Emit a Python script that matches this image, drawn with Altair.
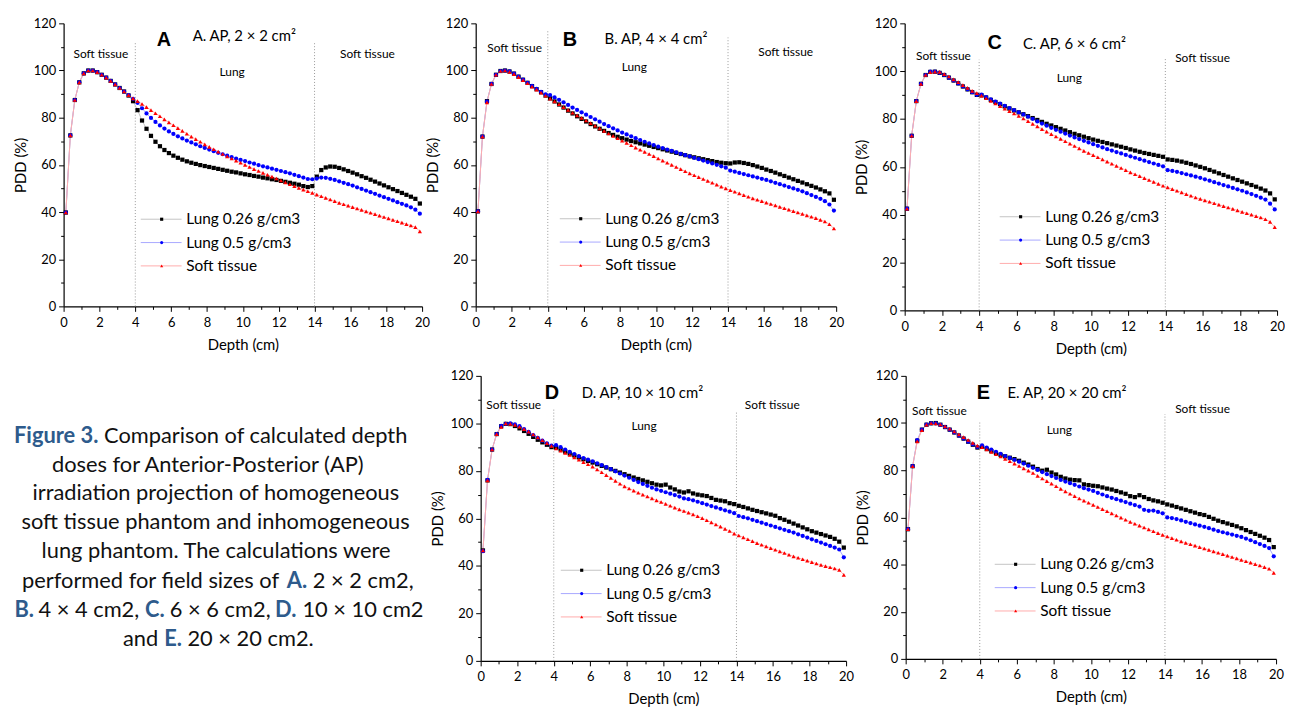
import altair as alt
import pandas as pd

SERIES = ["Lung 0.26 g/cm3", "Lung 0.5 g/cm3", "Soft tissue"]
POINT_COLORS = ["#000000", "#0000ff", "#ff0000"]
LINE_COLORS = ["#c4c4c4", "#a8a8ff", "#ffacac"]
SHAPES = ["square", "circle", "triangle-up"]

DEPTH = [0.125, 0.375, 0.625, 0.875, 1.125, 1.375, 1.625, 1.875, 2.125, 2.375,
         2.625, 2.875, 3.125, 3.375, 3.625, 3.875, 4.125, 4.375, 4.625, 4.875,
         5.125, 5.375, 5.625, 5.875, 6.125, 6.375, 6.625, 6.875, 7.125, 7.375,
         7.625, 7.875, 8.125, 8.375, 8.625, 8.875, 9.125, 9.375, 9.625, 9.875,
         10.125, 10.375, 10.625, 10.875, 11.125, 11.375, 11.625, 11.875, 12.125, 12.375,
         12.625, 12.875, 13.125, 13.375, 13.625, 13.875, 14.125, 14.375, 14.625, 14.875,
         15.125, 15.375, 15.625, 15.875, 16.125, 16.375, 16.625, 16.875, 17.125, 17.375,
         17.625, 17.875, 18.125, 18.375, 18.625, 18.875, 19.125, 19.375, 19.625, 19.875]

# ---------------- Panel A: 2 x 2 cm2 ----------------
A_LUNG026 = [39.8, 72.5, 87.5, 95.0, 98.8, 100.0, 100.0, 99.3, 98.2, 97.0, 95.6, 94.1, 92.6, 91.1, 89.4, 87.0,
             83.2, 78.8, 75.3, 72.3, 69.8, 67.9, 66.3, 65.0,
             63.9, 63.0, 62.2, 61.5, 60.9, 60.4, 59.9, 59.5,
             59.1, 58.7, 58.3, 57.9, 57.5, 57.1, 56.8, 56.4,
             56.0, 55.7, 55.3, 55.0, 54.6, 54.3, 53.9, 53.6,
             53.2, 52.8, 52.4, 52.0, 51.6, 51.0, 50.6, 51.0,
             55.0, 57.8, 58.9, 59.3, 59.2, 58.7, 58.1, 57.4,
             56.7, 56.0, 55.2, 54.5, 53.7, 52.9, 52.1, 51.3,
             50.5, 49.7, 48.9, 48.1, 47.3, 46.5, 45.6, 43.6]
A_LUNG05 = [39.8, 72.5, 87.5, 95.0, 98.8, 100.0, 100.0, 99.3, 98.2, 97.0, 95.6, 94.1, 92.6, 91.1, 89.6, 88.0,
            86.3, 84.0, 81.8, 79.9, 78.2, 76.7, 75.4, 74.2,
            73.1, 72.1, 71.2, 70.3, 69.5, 68.7, 67.9, 67.2,
            66.5, 65.8, 65.1, 64.5, 63.9, 63.3, 62.7, 62.1,
            61.6, 61.0, 60.5, 59.9, 59.4, 58.9, 58.4, 57.9,
            57.4, 56.9, 56.4, 55.8, 55.2, 54.6, 54.0, 53.9,
            54.2, 54.6, 54.5, 54.1, 53.6, 53.0, 52.4, 51.8,
            51.2, 50.5, 49.8, 49.1, 48.4, 47.7, 47.0, 46.3,
            45.6, 44.9, 44.2, 43.5, 42.8, 42.0, 41.0, 39.3]
A_SOFT = [39.8, 72.5, 87.5, 95.0, 98.8, 100.0, 100.0, 99.3, 98.2, 97.0, 95.6, 94.1, 92.6, 91.1, 89.6, 88.2,
          87.0, 85.8, 84.5, 83.2, 81.9, 80.6, 79.3, 78.0,
          76.8, 75.6, 74.4, 73.2, 72.0, 70.9, 69.8, 68.7,
          67.6, 66.6, 65.6, 64.6, 63.6, 62.7, 61.8, 60.9,
          60.0, 59.1, 58.2, 57.4, 56.6, 55.8, 55.0, 54.2,
          53.4, 52.6, 51.8, 51.0, 50.2, 49.5, 48.8, 48.1,
          47.4, 46.7, 46.0, 45.3, 44.6, 43.9, 43.3, 42.7,
          42.1, 41.5, 40.9, 40.3, 39.7, 39.1, 38.5, 37.9,
          37.3, 36.7, 36.1, 35.5, 34.9, 34.3, 33.6, 31.8]

# ---------------- Panel B: 4 x 4 cm2 ----------------
B_LUNG026 = [40.3, 72.0, 87.0, 94.3, 98.2, 99.8, 100.0, 99.6, 98.7, 97.4, 96.1, 94.8, 93.4, 92.1, 90.8, 89.4,
             88.2, 86.9, 85.6, 84.3, 83.0, 81.8, 80.6, 79.5,
             78.4, 77.3, 76.3, 75.3, 74.4, 73.5, 72.7, 71.9,
             71.3, 70.7, 70.1, 69.6, 69.1, 68.6, 68.1, 67.6,
             67.1, 66.6, 66.1, 65.6, 65.1, 64.6, 64.1, 63.6,
             63.2, 62.8, 62.4, 62.0, 61.6, 61.2, 60.9, 60.7,
             60.6, 61.0, 61.1, 60.8, 60.4, 59.9, 59.3, 58.7,
             58.0, 57.4, 56.7, 56.0, 55.3, 54.6, 53.9, 53.2,
             52.5, 51.8, 51.1, 50.4, 49.6, 48.8, 47.9, 45.2]
B_LUNG05 = [40.3, 72.0, 86.8, 94.3, 98.2, 99.8, 100.0, 99.6, 98.7, 97.4, 96.1, 94.8, 93.5, 92.2, 91.0, 89.9,
            89.6, 88.6, 87.6, 86.5, 85.4, 84.3, 83.3, 82.3,
            81.3, 80.3, 79.3, 78.3, 77.3, 76.4, 75.5, 74.6,
            73.7, 72.9, 72.1, 71.3, 70.5, 69.8, 69.1, 68.4,
            67.7, 67.1, 66.5, 65.9, 65.3, 64.7, 64.1, 63.6,
            63.0, 62.4, 61.8, 61.2, 60.6, 60.0, 59.4, 58.8,
            57.6, 57.1, 56.6, 56.1, 55.6, 55.1, 54.6, 54.1,
            53.6, 53.0, 52.4, 51.8, 51.2, 50.6, 50.0, 49.4,
            48.8, 48.0, 47.2, 46.4, 45.6, 44.6, 43.2, 40.6]
B_SOFT = [40.3, 72.0, 86.5, 94.3, 98.2, 99.8, 100.0, 99.4, 98.5, 97.2, 95.9, 94.6, 93.2, 91.9, 90.6, 89.3,
          88.1, 86.9, 85.7, 84.5, 83.3, 82.1, 81.0, 79.9,
          78.8, 77.7, 76.6, 75.5, 74.4, 73.3, 72.3, 71.3,
          70.3, 69.3, 68.3, 67.3, 66.4, 65.5, 64.6, 63.7,
          62.7, 61.8, 60.9, 60.0, 59.1, 58.2, 57.3, 56.4,
          55.6, 54.8, 54.0, 53.2, 52.4, 51.6, 50.8, 50.0,
          49.3, 48.6, 47.9, 47.2, 46.5, 45.8, 45.2, 44.6,
          44.0, 43.4, 42.8, 42.2, 41.6, 41.0, 40.4, 39.8,
          39.2, 38.6, 38.0, 37.4, 36.7, 36.0, 34.8, 33.0]

# ---------------- Panel C: 6 x 6 cm2 ----------------
C_LUNG026 = [42.5, 73.0, 87.5, 94.7, 98.4, 99.7, 99.8, 99.3, 98.4, 97.3, 96.1, 94.9, 93.6, 92.4, 91.2, 90.1,
             89.9, 89.0, 88.0, 87.1, 86.2, 85.3, 84.4, 83.6,
             82.8, 82.0, 81.2, 80.4, 79.6, 78.8, 78.0, 77.3,
             76.6, 75.9, 75.2, 74.5, 73.8, 73.2, 72.6, 72.0,
             71.4, 70.9, 70.4, 69.9, 69.4, 68.9, 68.4, 67.9,
             67.3, 66.8, 66.3, 65.8, 65.4, 65.0, 64.6, 64.2,
             63.1, 62.9, 62.6, 62.2, 61.7, 61.2, 60.6, 60.0,
             59.4, 58.7, 58.0, 57.3, 56.6, 55.9, 55.2, 54.5,
             53.8, 53.1, 52.4, 51.7, 50.9, 50.1, 48.9, 46.4]
C_LUNG05 = [42.5, 73.0, 87.5, 94.7, 98.4, 99.8, 99.8, 99.3, 98.4, 97.3, 96.1, 94.9, 93.6, 92.4, 91.2, 90.1,
            90.2, 89.2, 88.2, 87.3, 86.4, 85.5, 84.6, 83.7,
            82.8, 81.9, 81.0, 80.1, 79.0, 78.1, 77.2, 76.3,
            75.5, 74.7, 73.9, 73.1, 72.3, 71.6, 70.9, 70.2,
            69.5, 68.8, 68.1, 67.4, 66.8, 66.2, 65.6, 65.0,
            64.4, 63.8, 63.2, 62.6, 62.0, 61.4, 60.8, 60.2,
            58.6, 58.3, 57.9, 57.4, 56.9, 56.4, 55.9, 55.4,
            54.8, 54.2, 53.6, 53.0, 52.4, 51.8, 51.2, 50.6,
            50.0, 49.3, 48.6, 47.9, 47.1, 46.3, 44.6, 42.2]
C_SOFT = [42.5, 73.0, 87.5, 94.7, 98.4, 99.6, 99.8, 99.7, 98.8, 97.8, 96.6, 95.4, 94.2, 93.0, 91.8, 90.8,
          89.8, 88.7, 87.6, 86.5, 85.4, 84.3, 83.3, 82.3,
          81.3, 80.2, 79.1, 78.0, 76.9, 75.8, 74.7, 73.7,
          72.7, 71.7, 70.7, 69.7, 68.7, 67.7, 66.7, 65.8,
          64.9, 64.0, 63.1, 62.2, 61.3, 60.4, 59.5, 58.6,
          57.7, 56.9, 56.1, 55.3, 54.5, 53.7, 52.9, 52.1,
          51.4, 50.7, 50.0, 49.3, 48.6, 47.9, 47.2, 46.6,
          46.0, 45.4, 44.8, 44.2, 43.6, 43.0, 42.4, 41.8,
          41.2, 40.6, 40.0, 39.4, 38.8, 38.1, 37.0, 34.8]

# ---------------- Panel D: 10 x 10 cm2 ----------------
D_LUNG026 = [46.5, 76.0, 89.0, 95.5, 98.8, 99.8, 99.7, 98.9, 97.9, 96.8, 95.6, 94.3, 93.1, 92.0, 91.0, 90.0,
             89.8, 89.0, 88.1, 87.3, 86.5, 85.7, 84.9, 84.2,
             83.5, 82.8, 82.1, 81.4, 80.7, 80.0, 79.3, 78.6,
             77.9, 77.2, 76.6, 76.0, 75.4, 74.8, 74.2, 73.9,
             74.2, 73.0, 72.2, 71.3, 70.9, 71.4, 70.5, 70.0,
             69.7, 69.4, 68.6, 67.8, 67.5, 67.2, 66.4, 66.0,
             65.3, 64.8, 64.2, 63.6, 63.1, 62.6, 62.1, 61.6,
             61.1, 60.1, 59.4, 58.6, 57.8, 57.0, 56.2, 55.4,
             54.6, 54.0, 53.4, 52.8, 52.2, 51.4, 50.2, 47.7]
D_LUNG05 = [46.2, 76.2, 89.0, 95.5, 99.0, 99.8, 100.0, 99.6, 98.8, 97.6, 96.4, 95.1, 93.9, 92.7, 91.6, 90.6,
            90.8, 90.0, 89.0, 88.0, 87.1, 86.2, 85.4, 84.7,
            84.0, 83.2, 82.4, 81.6, 80.7, 79.8, 78.9, 78.0,
            77.1, 76.2, 75.3, 74.5, 73.7, 72.9, 72.2, 71.6,
            71.0, 70.4, 69.8, 69.2, 68.4, 68.1, 67.6, 67.0,
            66.4, 65.8, 65.2, 64.6, 64.0, 63.4, 62.8, 62.2,
            61.0, 60.5, 60.0, 59.4, 58.8, 58.2, 57.6, 57.0,
            56.4, 55.8, 55.2, 54.6, 54.0, 53.3, 52.6, 51.9,
            51.2, 50.5, 49.8, 49.1, 48.4, 47.7, 46.9, 43.6]
D_SOFT = [46.5, 76.0, 89.0, 95.5, 98.5, 100.0, 99.8, 99.4, 98.6, 97.6, 96.5, 95.3, 94.1, 92.9, 91.7, 90.5,
          89.4, 88.5, 87.6, 86.7, 85.7, 84.7, 83.7, 82.8,
          81.8, 80.6, 79.4, 78.2, 77.0, 75.8, 74.6, 73.5,
          72.6, 71.7, 70.8, 70.0, 69.2, 68.4, 67.6, 66.9,
          66.1, 65.3, 64.5, 63.8, 63.1, 62.4, 61.7, 60.9,
          60.1, 59.2, 58.3, 57.4, 56.5, 55.6, 54.7, 53.6,
          52.8, 52.0, 51.2, 50.4, 49.6, 48.9, 48.2, 47.5,
          46.8, 46.1, 45.4, 44.7, 44.0, 43.4, 42.8, 42.2,
          41.6, 41.0, 40.4, 39.9, 39.4, 38.9, 38.3, 36.2]

# ---------------- Panel E: 20 x 20 cm2 ----------------
E_LUNG026 = [55.0, 81.7, 92.5, 97.2, 99.3, 99.9, 100.0, 99.3, 98.3, 97.2, 96.0, 94.7, 93.4, 92.1, 90.8, 89.6,
             89.9, 89.0, 88.1, 87.3, 86.5, 85.9, 85.3, 84.7,
             84.0, 83.2, 82.4, 81.5, 80.5, 79.8, 80.2, 79.0,
             78.2, 77.2, 76.5, 76.0, 75.8, 75.7, 74.0, 73.7,
             73.4, 73.2, 72.7, 72.2, 71.8, 71.2, 70.6, 70.0,
             69.0, 68.6, 69.4, 68.6, 67.8, 67.2, 66.8, 66.2,
             65.5, 65.0, 64.4, 63.8, 63.2, 62.6, 62.0, 61.4,
             61.0, 60.2, 59.4, 58.6, 58.0, 57.4, 56.8, 56.2,
             55.4, 54.6, 53.8, 53.0, 52.2, 51.4, 50.4, 47.4]
E_LUNG05 = [55.0, 81.7, 92.8, 97.2, 99.3, 99.9, 99.9, 99.2, 98.3, 97.2, 96.0, 94.7, 93.4, 92.1, 90.9, 89.8,
            90.5, 89.6, 88.7, 87.8, 86.9, 86.0, 85.2, 84.4,
            83.6, 82.8, 81.9, 81.0, 80.1, 79.2, 78.3, 77.5,
            76.7, 75.9, 75.2, 74.5, 73.8, 73.1, 72.4, 71.8,
            71.2, 70.4, 69.7, 69.0, 68.3, 67.7, 67.1, 66.5,
            65.8, 65.2, 64.6, 63.2, 62.8, 62.9, 62.3, 61.7,
            60.0, 59.7, 59.3, 58.7, 58.1, 57.6, 57.0, 56.5,
            56.0, 55.4, 54.8, 54.2, 53.7, 53.2, 52.7, 52.2,
            51.7, 51.0, 50.3, 49.5, 48.7, 47.9, 47.0, 43.5]
E_SOFT = [55.0, 81.7, 92.2, 97.0, 99.3, 99.9, 99.8, 99.4, 98.6, 97.6, 96.4, 95.2, 94.0, 92.8, 91.6, 90.4,
          89.8, 88.8, 87.8, 86.8, 85.8, 84.8, 83.8, 82.8,
          81.8, 80.8, 79.8, 78.8, 77.6, 76.5, 75.4, 74.3,
          73.2, 72.1, 71.0, 70.0, 69.0, 68.0, 67.1, 66.2,
          65.3, 64.4, 63.5, 62.6, 61.7, 60.8, 59.9, 59.0,
          58.1, 57.3, 56.5, 55.7, 54.9, 54.1, 53.3, 52.6,
          51.9, 51.2, 50.5, 49.8, 49.2, 48.6, 48.0, 47.4,
          46.8, 46.2, 45.6, 45.0, 44.4, 43.8, 43.2, 42.6,
          42.0, 41.4, 40.8, 40.2, 39.6, 38.9, 38.2, 36.5]

REGION_BOUNDS = [4, 14]
X_MAJOR = [0, 2, 4, 6, 8, 10, 12, 14, 16, 18, 20]
X_MINOR = [1, 3, 5, 7, 9, 11, 13, 15, 17, 19]
Y_MAJOR = [0, 20, 40, 60, 80, 100, 120]
Y_MINOR = [10, 30, 50, 70, 90, 110]

PANEL_TITLES = {"A": "A. AP, 2 × 2 cm²", "B": "B. AP, 4 × 4 cm²", "C": "C. AP, 6 × 6 cm²",
                "D": "D. AP, 10 × 10 cm²", "E": "E. AP, 20 × 20 cm²"}
PANEL_DATA = {"A": (A_LUNG026, A_LUNG05, A_SOFT), "B": (B_LUNG026, B_LUNG05, B_SOFT),
              "C": (C_LUNG026, C_LUNG05, C_SOFT), "D": (D_LUNG026, D_LUNG05, D_SOFT),
              "E": (E_LUNG026, E_LUNG05, E_SOFT)}

# layout of each panel (plot size, annotation anchors in data units, legend offsets in px)
LAYOUT = {
    "A": dict(w=361, h=285, rule_top=[111.7, 112.4], letter=(5.6, 113), title=(7.2, 114.5),
              annot=[(2.08, 107), (9.4, 99.5), (16.95, 107)], leg_mark=93, leg_row=195),
    "B": dict(w=363, h=285, rule_top=[116.8, 114.0], letter=(5.23, 113), title=(7.15, 113.5),
              annot=[(2.16, 109.7), (8.8, 101.3), (17.2, 108)], leg_mark=100, leg_row=194.5),
    "C": dict(w=375, h=289, rule_top=[104.8, 105.5], letter=(4.84, 111.7), title=(6.35, 111.3),
              annot=[(2.08, 106.2), (8.84, 97.3), (16.0, 105.5)], leg_mark=111, leg_row=192.5),
    "D": dict(w=368, h=287, rule_top=[106.0, 105.0], letter=(3.9, 112.8), title=(5.53, 112.8),
              annot=[(1.81, 107.6), (8.94, 98.8), (15.96, 107.6)], leg_mark=96, leg_row=193.5),
    "E": dict(w=373, h=285, rule_top=[100.9, 103.8], letter=(4.2, 112.6), title=(5.5, 112.6),
              annot=[(1.82, 105), (8.3, 97), (16.03, 106)], leg_mark=105, leg_row=187.5),
}
ANNOT_TEXT = ["Soft tissue", "Lung", "Soft tissue"]

FONT = "Lato"
XS = alt.Scale(domain=[0, 20], nice=False, zero=False)
YS = alt.Scale(domain=[0, 120], nice=False, zero=False)
SYM_SIZE = 10
LINE_SYMBOL = "M-13,0H13"


def panel(key):
    lay = LAYOUT[key]
    rows = []
    for name, vals in zip(SERIES, PANEL_DATA[key]):
        for d, v in zip(DEPTH, vals):
            rows.append({"depth": d, "pdd": v, "series": name})
    df = pd.DataFrame(rows)

    x_main = alt.X("depth:Q", scale=XS, axis=alt.Axis(
        values=X_MAJOR, orient="bottom", title="Depth (cm)", grid=False, tickSize=5,
        labelFontSize=13, titleFontSize=15, titleFontWeight="normal", labelPadding=5,
        titlePadding=8, labelFlush=False))
    y_main = alt.Y("pdd:Q", scale=YS, axis=alt.Axis(
        values=Y_MAJOR, orient="left", title="PDD (%)", grid=False, tickSize=5,
        labelFontSize=13, titleFontSize=15, titleFontWeight="normal", labelPadding=3,
        titlePadding=5, labelFlush=False))

    row_pad = 6.5
    leg_y = lay["leg_row"] - 5.5
    leg_x = lay["leg_mark"] - 2
    line_leg = alt.Legend(orient="none", legendX=leg_x - 0.5, legendY=leg_y, title=None,
                          symbolType=LINE_SYMBOL, symbolSize=SYM_SIZE, symbolStrokeWidth=1,
                          labelFontSize=15.5, labelOpacity=0, rowPadding=row_pad, padding=0,
                          zindex=0)
    pt_leg = alt.Legend(orient="none", legendX=leg_x, legendY=leg_y, title=None,
                        symbolSize=SYM_SIZE, labelFontSize=15.5, labelColor="black", labelOffset=17,
                        rowPadding=row_pad, padding=0, zindex=1, symbolStrokeWidth=0)

    lines = alt.Chart(df).mark_line(strokeWidth=1).encode(
        x=x_main, y=y_main,
        color=alt.Color("series:N", scale=alt.Scale(domain=SERIES, range=LINE_COLORS), legend=line_leg),
    )
    points = alt.Chart(df).mark_point(filled=True, size=18, opacity=1).encode(
        x=alt.X("depth:Q", scale=XS, axis=None),
        y=alt.Y("pdd:Q", scale=YS, axis=None),
        color=alt.Color("series:N", scale=alt.Scale(domain=SERIES, range=POINT_COLORS), legend=pt_leg),
        shape=alt.Shape("series:N", scale=alt.Scale(domain=SERIES, range=SHAPES), legend=pt_leg),
        order=alt.Order("ord:Q"),
    ).transform_calculate(ord="indexof(%s, datum.series)" % str(SERIES))

    rule_df = pd.DataFrame({"x": REGION_BOUNDS, "y0": [0, 0], "top": lay["rule_top"]})
    rules = alt.Chart(rule_df).mark_rule(color="#9a9a9a", strokeWidth=1, strokeDash=[1, 2]).encode(
        x=alt.X("x:Q", scale=XS, axis=alt.Axis(values=X_MINOR, orient="bottom", labels=False,
                                               domain=False, grid=False, tickSize=3, title=None)),
        y=alt.Y("y0:Q", scale=YS, axis=alt.Axis(values=Y_MINOR, orient="left", labels=False,
                                                domain=False, grid=False, tickSize=3, title=None)),
        y2="top:Q",
    )

    ann_df = pd.DataFrame({"x": [a[0] for a in lay["annot"]], "y": [a[1] for a in lay["annot"]],
                           "t": ANNOT_TEXT})
    ann = alt.Chart(ann_df).mark_text(fontSize=12, font=FONT, color="black").encode(
        x=alt.X("x:Q", scale=XS, axis=None), y=alt.Y("y:Q", scale=YS, axis=None), text="t:N")

    let_df = pd.DataFrame({"x": [lay["letter"][0]], "y": [lay["letter"][1]], "t": [key]})
    letter = alt.Chart(let_df).mark_text(fontSize=20, font="Liberation Sans", fontWeight="bold",
                                         color="black").encode(
        x=alt.X("x:Q", scale=XS, axis=None), y=alt.Y("y:Q", scale=YS, axis=None), text="t:N")

    tit_df = pd.DataFrame({"x": [lay["title"][0]], "y": [lay["title"][1]], "t": [PANEL_TITLES[key]]})
    title = alt.Chart(tit_df).mark_text(fontSize=15, font=FONT, align="left", color="black").encode(
        x=alt.X("x:Q", scale=XS, axis=None), y=alt.Y("y:Q", scale=YS, axis=None), text="t:N")

    return alt.layer(rules, lines, points, ann, letter, title).resolve_scale(
        color="independent", shape="independent").resolve_axis(
        x="independent", y="independent").properties(width=lay["w"], height=lay["h"])


# caption segments: text, x px, y px, alignment, emphasised
CAP_TEXT = ["Figure 3.", "Comparison of calculated depth", "doses for Anterior-Posterior (AP)",
            "irradiation projection of homogeneous", "soft tissue phantom and inhomogeneous",
            "lung phantom. The calculations were", "performed for field sizes of", "A.", "2 × 2 cm2,",
            "B.", "4 × 4 cm2,", "C.", "6 × 6 cm2,", "D.", "10 × 10 cm2", "and", "E.", "20 × 20 cm2."]
CAP_X = [35, 40.7, 145.2, 153.3, 153, 153.5, 217, 224.7, 251, -49.5, -25.3, 82, 107, 213,
         240.5, 59.7, 101.3, 124.7]
CAP_Y = [60.7, 60.7, 89.4, 118.4, 147.6, 176.9, 206.4, 206.4, 206.4, 235.5, 235.5, 235.5, 235.5,
         235.5, 235.5, 265, 265, 265]
CAP_ALIGN = ["right", "left", "center", "center", "center", "center", "right", "left", "left",
             "left", "left", "left", "left", "left", "left", "left", "left", "left"]
CAP_BOLD = [True, False, False, False, False, False, False, True, False, True, False, True, False,
            True, False, False, True, False]

cap_df = pd.DataFrame({"t": CAP_TEXT, "x": CAP_X, "y": CAP_Y, "align": CAP_ALIGN, "bold": CAP_BOLD})
cap_layers = []
for al in ["left", "center", "right"]:
    for bold in [False, True]:
        sub = cap_df[(cap_df["align"] == al) & (cap_df["bold"] == bold)]
        if len(sub) == 0:
            continue
        cap_layers.append(alt.Chart(sub).mark_text(
            fontSize=22, font=FONT, align=al, baseline="middle",
            fontWeight="bold" if bold else "normal",
            color="#2e5b8c" if bold else "#111111").encode(
            x=alt.X("x:Q", scale=None, axis=None), y=alt.Y("y:Q", scale=None, axis=None), text="t:N"))
caption = alt.layer(*cap_layers).properties(width=380, height=285)

IND = dict(x="independent", y="independent", color="independent", shape="independent")

row1 = alt.hconcat(
    panel("A"),
    alt.hconcat(panel("B"), panel("C"), spacing=69, bounds="flush").resolve_scale(**IND),
    spacing=54, bounds="flush").resolve_scale(**IND)
row2 = alt.hconcat(
    caption,
    alt.hconcat(panel("D"), panel("E"), spacing=60, bounds="flush").resolve_scale(**IND),
    spacing=40, bounds="flush").resolve_scale(**IND)

chart = alt.vconcat(row1, row2, spacing=14, bounds="full").resolve_scale(**IND).properties(
    padding={"left": 5, "top": 7, "right": 0, "bottom": 0}, background="white"
).configure_view(stroke=None).configure_axis(
    labelFont=FONT, titleFont=FONT, domainColor="black", tickColor="black", labelColor="black",
    titleColor="black", domainWidth=1.2, tickWidth=1
).configure_legend(labelFont=FONT).configure_text(font=FONT)

chart.save("out.html", embed_options={"renderer": "svg", "actions": False})
